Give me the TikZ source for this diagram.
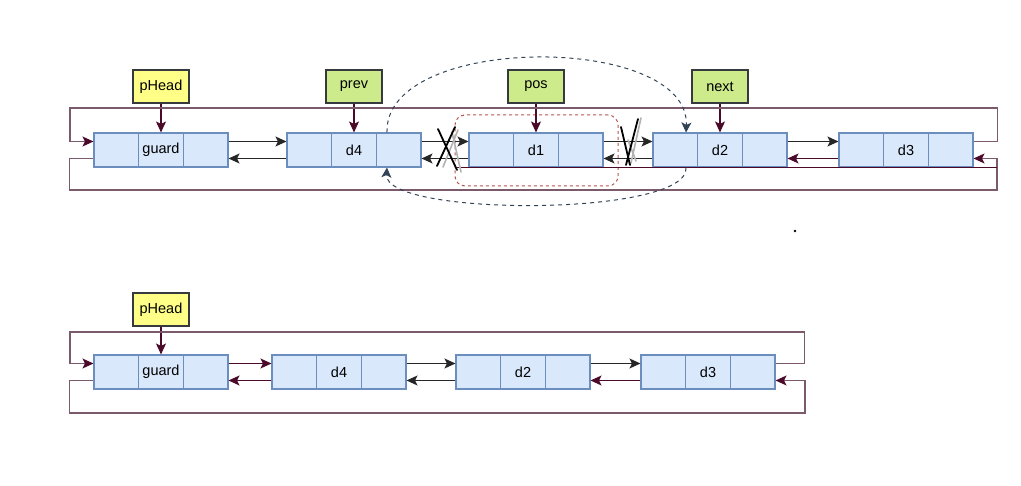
\documentclass[tikz,border=0pt]{standalone}
\usepackage{fontspec}
\setmainfont{Liberation Sans}
\usetikzlibrary{arrows.meta}
\definecolor{cellfill}{HTML}{DAE8FC}
\definecolor{cellline}{HTML}{6C8EBF}
\definecolor{yel}{HTML}{FFFF88}
\definecolor{grn}{HTML}{CDEB8B}
\definecolor{boxline}{HTML}{36393D}
\definecolor{plum}{HTML}{4C0A2A}
\definecolor{loopc}{HTML}{7A5A6B}
\definecolor{dashc}{HTML}{314354}
\definecolor{redd}{HTML}{B85450}
\newcommand\elem[4]{%
  \node[cell] (#1l) at (#2+22.33,#3) {};
  \node[cell] (#1m) at (#2+67,#3) {#4};
  \node[cell] (#1r) at (#2+111.67,#3) {};
}
\tikzset{
  txt/.style={font=\fontsize{14.5}{17}\selectfont},
  cell/.style={txt, draw=cellline, fill=cellfill, line width=1.1pt, minimum width=44.67pt, minimum height=34pt, inner sep=0pt},
  ptr/.style={txt, draw=boxline, line width=1.1pt, minimum width=56pt, minimum height=33pt, inner sep=0pt},
  blk/.style={-{Stealth[length=11pt,width=10pt,inset=2.5pt]}, line width=1.1pt, draw=black!85},
  prp/.style={-{Stealth[length=11pt,width=10pt,inset=2.5pt,color=plum]}, line width=1.1pt, draw=plum},
  loopl/.style={-{Stealth[length=11pt,width=10pt,inset=2.5pt,color=plum]}, line width=1.1pt, draw=loopc},
  dsh/.style={-{Stealth[length=10pt,width=10pt,inset=2.5pt]}, draw=dashc, line width=1pt, dash pattern=on 4pt off 4pt},
  cross/.style={line width=1.8pt, line cap=round, draw=black},
  crossg/.style={line width=1.6pt, line cap=round, draw=black!30},
}
\begin{document}
\begin{tikzpicture}[x=1pt,y=-1pt]
\useasboundingbox (0,0) rectangle (1021,486);
% ---------- top row ----------
\node[draw=redd, dashed, line width=1pt, rounded corners=10pt, minimum width=163pt, minimum height=71pt] (sel) at (536.5,150.5) {};
\elem{t1}{94}{150}{guard}
\elem{t2}{287}{150}{d4}
\elem{t3}{469}{150}{d1}
\elem{t4}{653}{150}{d2}
\elem{t5}{839}{150}{d3}
\node[ptr, fill=yel] (tp1) at (161,86.5) {pHead};
\node[ptr, fill=grn] (tp2) at (354,86.5) {prev};
\node[ptr, fill=grn] (tp3) at (536,86.5) {pos};
\node[ptr, fill=grn] (tp4) at (720,86.5) {next};
\foreach \p/\c in {tp1/t1m, tp2/t2m, tp3/t3m, tp4/t4m} \draw[prp] (\p.south) -- (\c.north);
% links
\draw[blk] ([yshift=8.5pt]t1r.east) -- ([yshift=8.5pt]t2l.west);
\draw[blk] ([yshift=-8.5pt]t2l.west) -- ([yshift=-8.5pt]t1r.east);
\draw[blk] ([yshift=8.5pt]t2r.east) -- ([yshift=8.5pt]t3l.west);
\draw[blk] ([yshift=-8.5pt]t3l.west) -- ([yshift=-8.5pt]t2r.east);
\draw[blk] ([yshift=8.5pt]t3r.east) -- ([yshift=8.5pt]t4l.west);
\draw[blk] ([yshift=-8.5pt]t4l.west) -- ([yshift=-8.5pt]t3r.east);
\draw[blk] ([yshift=8.5pt]t4r.east) -- ([yshift=8.5pt]t5l.west);
\draw[prp] ([yshift=-8.5pt]t5l.west) -- ([yshift=-8.5pt]t4r.east);
% loops
\draw[loopl] ([yshift=8.5pt]t5r.east) -- ++(24,0) |- (70,108) |- ([yshift=8.5pt]t1l.west);
\draw[loopl] ([yshift=-8.5pt]t1l.west) -- ++(-24,0) |- (997,190) |- ([yshift=-8.5pt]t5r.east);
\draw[line width=1.1pt, draw=plum] (457,167.5) -- (997,167.5);
% dashed re-link
\draw[dsh] ([xshift=-11.7pt]t2r.north) .. controls (384,33) and (690,33) .. ([xshift=10.7pt]t4l.north);
\draw[dsh] ([xshift=10.7pt]t4l.south) .. controls (690,217) and (384,217) .. ([xshift=-11.7pt]t2r.south);
% crosses
\draw[crossg] (452,132) -- (461,172);
\draw[crossg] (458,130) -- (443,167);
\draw[cross] (438,129) -- (457,170);
\draw[cross] (455,127) -- (437,166);
\draw[crossg] (641,118) -- (631,163);
\draw[crossg] (628,140) -- (636,161);
\draw[cross] (621,127) -- (630,165);
\draw[cross] (638,119) -- (626,165);
\fill (795,231) circle (1.3);
% ---------- bottom row ----------
\elem{b1}{94}{372}{guard}
\elem{b2}{272}{372}{d4}
\elem{b3}{456}{372}{d2}
\elem{b4}{641}{372}{d3}
\node[ptr, fill=yel] (bp1) at (161,309.5) {pHead};
\draw[prp] (bp1.south) -- (b1m.north);
\draw[prp] ([yshift=8.5pt]b1r.east) -- ([yshift=8.5pt]b2l.west);
\draw[prp] ([yshift=-8.5pt]b2l.west) -- ([yshift=-8.5pt]b1r.east);
\draw[blk] ([yshift=8.5pt]b2r.east) -- ([yshift=8.5pt]b3l.west);
\draw[blk] ([yshift=-8.5pt]b3l.west) -- ([yshift=-8.5pt]b2r.east);
\draw[blk] ([yshift=8.5pt]b3r.east) -- ([yshift=8.5pt]b4l.west);
\draw[prp] ([yshift=-8.5pt]b4l.west) -- ([yshift=-8.5pt]b3r.east);
\draw[loopl] ([yshift=8.5pt]b4r.east) -- ++(29,0) |- (70,332) |- ([yshift=8.5pt]b1l.west);
\draw[loopl] ([yshift=-8.5pt]b1l.west) -- ++(-24,0) |- (805,413) |- ([yshift=-8.5pt]b4r.east);
\end{tikzpicture}
\end{document}
